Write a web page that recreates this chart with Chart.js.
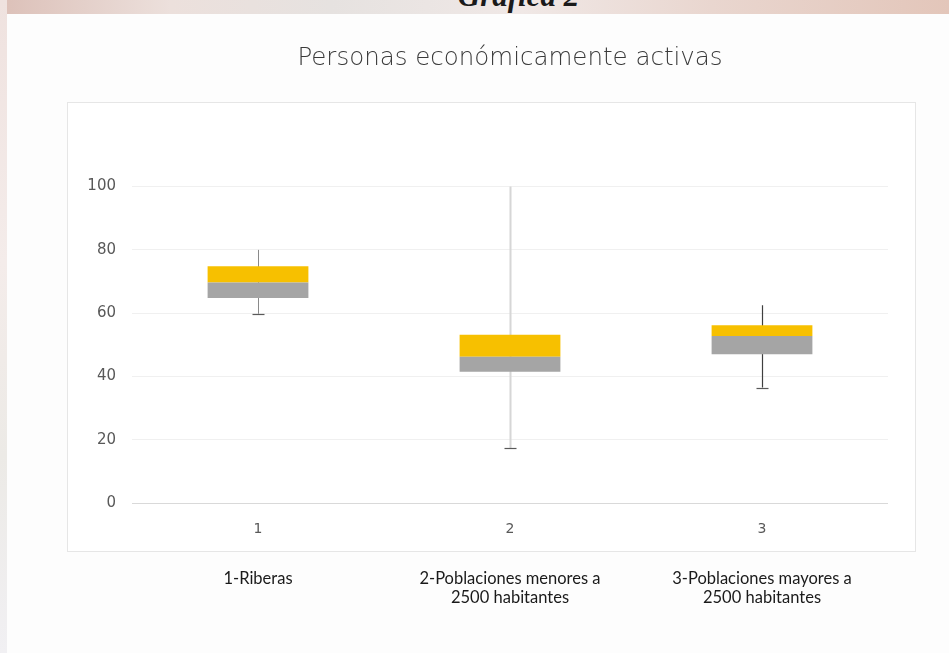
<!DOCTYPE html>
<html>
<head>
<meta charset="utf-8">
<script src="https://cdn.jsdelivr.net/npm/chart.js@4"></script>
<style>
  html, body { margin: 0; padding: 0; }
  body {
    width: 949px; height: 653px; overflow: hidden; position: relative;
    background: linear-gradient(90deg, #dcc0b8 0%, #ece0dc 18%, #e6e2e0 35%, #f0e8e6 55%, #e9d6cf 75%, #e3c6ba 100%);
  }
  #leftstrip {
    position: absolute; left: 0; top: 0; width: 7px; height: 653px;
    background: linear-gradient(180deg, #efe2df 0%, #f4ecea 40%, #eceae6 70%, #f1f0f3 100%);
  }
  #caption {
    position: absolute; left: 0; width: 1037px; top: -22px; text-align: center;
    font: italic bold 31px "Liberation Serif", serif; color: #1a1a1a;
  }
  #page { position: absolute; left: 7px; top: 14px; right: 0; bottom: 0; background: #fdfdfd; }
  #frame {
    position: absolute; left: 67px; top: 102px; width: 847px; height: 448px;
    border: 1px solid #e6e6e6; background: #fff;
  }
  #wrap { position: absolute; left: 0; top: 0; width: 949px; height: 653px; }
</style>
</head>
<body>
<div id="leftstrip"></div>
<div id="caption">Gráfica 2</div>
<div id="page"></div>
<div id="frame"></div>
<div id="wrap"><canvas id="chart"></canvas></div>
<script>
const categories = ["1", "2", "3"];
const groupNames = [
    ["1-Riberas"],
    ["2-Poblaciones menores a", "2500 habitantes"],
    ["3-Poblaciones mayores a", "2500 habitantes"],
];
const minimums = [59.8, 17.4, 36.5];
const quartile1 = [64.8, 41.5, 47.0];
const medians = [69.7, 46.2, 52.8];
const quartile3 = [74.8, 53.2, 56.2];
const maximums = [80, 100, 62.5];
const yTicks = [0, 20, 40, 60, 80, 100];

const whiskerColors = ["#8a8a8a", "#d6d6d6", "#3f3f3f"];
const whiskerWidths = [1, 2, 1.2];

const whiskerPlugin = {
    id: "whiskers",
    beforeDatasetsDraw(chart) {
        const { ctx, scales } = chart;
        const x = scales.x, y = scales.y;
        ctx.save();
        categories.forEach((c, i) => {
            const px = Math.round(x.getPixelForValue(i)) + 0.5;
            ctx.strokeStyle = whiskerColors[i];
            ctx.lineWidth = whiskerWidths[i];
            ctx.beginPath();
            ctx.moveTo(px, y.getPixelForValue(maximums[i]));
            ctx.lineTo(px, y.getPixelForValue(minimums[i]));
            ctx.stroke();
            // lower cap
            const yMin = Math.round(y.getPixelForValue(minimums[i])) + 0.5;
            ctx.strokeStyle = "#595959";
            ctx.lineWidth = 1.2;
            ctx.beginPath();
            ctx.moveTo(px - 6, yMin);
            ctx.lineTo(px + 6, yMin);
            ctx.stroke();
        });
        ctx.restore();
    },
};

new Chart(document.getElementById("chart"), {
    type: "bar",
    data: {
        labels: categories,
        datasets: [
            {
                label: "Q1 - mediana",
                data: categories.map((c, i) => [quartile1[i], medians[i]]),
                backgroundColor: "#a5a5a5",
                grouped: false,
            },
            {
                label: "mediana - Q3",
                data: categories.map((c, i) => [medians[i], quartile3[i]]),
                backgroundColor: "#f7c000",
                grouped: false,
            },
        ],
    },
    options: {
        responsive: true,
        maintainAspectRatio: false,
        animation: false,
        barPercentage: 0.4,
        categoryPercentage: 1,
        layout: { padding: { left: 0, right: 61, top: 0, bottom: 0 } },
        plugins: {
            legend: { display: false },
            tooltip: { enabled: false },
            title: {
                display: true,
                fullSize: false,
                text: "Personas económicamente activas",
                color: "#3a3a3a",
                font: { family: "DejaVu Sans", size: 24.5, weight: 300, lineHeight: 1.2 },
                padding: { top: 44, bottom: 113.2 },
            },
        },
        scales: {
            x: {
                grid: { display: false },
                border: { display: false },
                ticks: {
                    color: "#595959",
                    font: { family: "DejaVu Sans", size: 14 },
                    padding: 10,
                },
                afterFit: (s) => { s.height = 48; },
            },
            groups: {
                type: "category",
                position: "bottom",
                labels: groupNames,
                offset: true,
                grid: { display: false },
                border: { display: false },
                ticks: {
                    color: "#1a1a1a",
                    font: { family: "Lato", size: 16.5, lineHeight: 1.16 },
                    padding: 10,
                    maxRotation: 0,
                    autoSkip: false,
                },
                afterFit: (s) => { s.height = 102; },
            },
            y: {
                min: 0,
                max: 100,
                afterBuildTicks: (s) => { s.ticks = yTicks.map((v) => ({ value: v })); },
                grid: {
                    drawTicks: false,
                    color: (ctx) => (ctx.tick && ctx.tick.value === 0 ? "#d9d9d9" : "#f0f0f0"),
                },
                border: { display: false },
                ticks: {
                    color: "#595959",
                    font: { family: "DejaVu Sans", size: 15 },
                    padding: 16,
                },
                afterFit: (s) => { s.width = 132; },
            },
        },
    },
    plugins: [whiskerPlugin],
});
</script>
</body>
</html>
